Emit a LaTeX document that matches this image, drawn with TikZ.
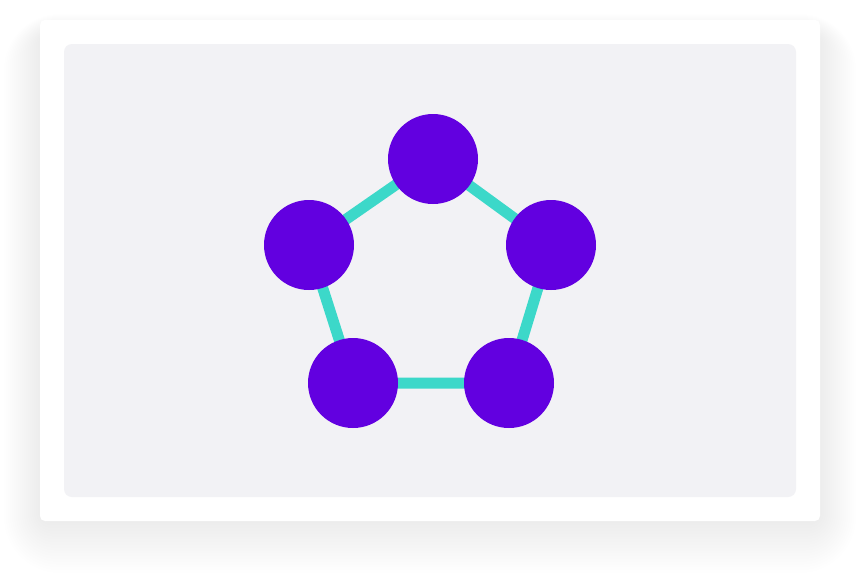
\documentclass[tikz,border=0pt]{standalone}
\definecolor{panelgray}{HTML}{F2F2F5}
\definecolor{nodepurple}{HTML}{6200E0}
\definecolor{edgeteal}{HTML}{3CD8C9}
\tikzset{
  dot/.style={circle,fill=nodepurple,minimum size=90pt,inner sep=0pt},
  edge/.style={edgeteal,line width=11pt}
}

\begin{document}
\begin{tikzpicture}[x=1pt,y=-1pt]
\useasboundingbox (0,0) rectangle (860,582);
% soft shadow under the card
\foreach \i in {1,...,20}{
  \pgfmathsetmacro\rr{6+2.5*\i}
  \fill[black,opacity=0.0022,rounded corners=\rr pt] (44-2*\i,34-1*\i) rectangle (816+2*\i,517+2.8*\i);
}
\fill[white,rounded corners=5pt] (40,20) rectangle (820,521);
\fill[panelgray,rounded corners=8pt] (64,44) rectangle (796,497);
% pentagon
\coordinate (pt) at (433,159);
\coordinate (pr) at (551,245);
\coordinate (pbr) at (509,383);
\coordinate (pbl) at (353,383);
\coordinate (pl) at (309,245);
\draw[edge] (pt) -- (pr) -- (pbr) -- (pbl) -- (pl) -- cycle;
\node[dot] (top) at (pt) {};
\node[dot] (right) at (pr) {};
\node[dot] (botright) at (pbr) {};
\node[dot] (botleft) at (pbl) {};
\node[dot] (left) at (pl) {};
\end{tikzpicture}
\end{document}
